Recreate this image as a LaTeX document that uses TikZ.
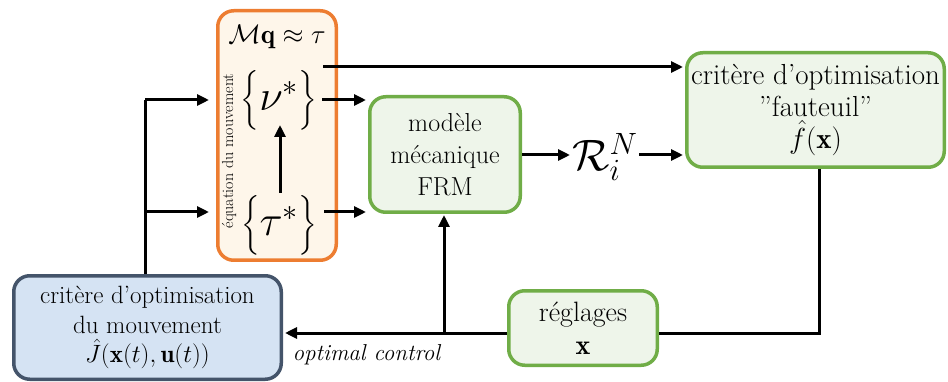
\RequirePackage{fix-cm}
\documentclass[tikz,border=0pt]{standalone}
\usepackage{fontspec}
\usepackage{amsmath}
\usetikzlibrary{arrows.meta}
\definecolor{orng}{HTML}{ED7D31}
\definecolor{cream}{HTML}{FEF6EA}
\definecolor{grn}{HTML}{70AD47}
\definecolor{grnfill}{HTML}{EEF5EA}
\definecolor{bluefill}{HTML}{D5E3F3}
\definecolor{blueline}{HTML}{44546A}
\begin{document}
\begin{tikzpicture}[x=1pt,y=-1pt,
  box/.style={draw, rounded corners=16pt, line width=3.5pt, align=center, inner sep=0pt},
  greenbox/.style={box, draw=grn, fill=grnfill},
  arr/.style={line width=3pt, -{Triangle[length=12pt,width=11pt]}, shorten >=2pt},
  ln/.style={line width=3pt},
  bigmath/.style={inner sep=0pt, font=\fontsize{43}{46}\selectfont}]
\useasboundingbox (0,0) rectangle (948,382);
% boxes
\node[box, draw=orng, fill=cream, minimum width=118.5pt, minimum height=249.5pt] (eqbox) at (277,135.5) {};
\node[box, draw=blueline, fill=bluefill, minimum width=267.5pt, minimum height=103.5pt,
  font=\fontsize{25}{29.5}\selectfont] (crit) at (147.5,327.5)
  {critère d’optimisation\\du mouvement\\$\hat{J}(\mathbf{x}(t),\mathbf{u}(t))$};
\node[greenbox, minimum width=150.5pt, minimum height=115.5pt,
  font=\fontsize{26}{32}\selectfont] (model) at (445,154.5)
  {modèle\\mécanique\\FRM};
\node[greenbox, minimum width=257.5pt, minimum height=114.5pt,
  font=\fontsize{29}{32}\selectfont] (faut) at (815.5,110)
  {critère d’optimisation\\''fauteuil''\\$\hat{f}(\mathbf{x})$};
\node[greenbox, minimum width=148.5pt, minimum height=74.5pt,
  font=\fontsize{28}{33}\selectfont] (regl) at (583,328)
  {réglages\\$\mathbf{x}$};
% contents of the orange box
\node[inner sep=0pt, font=\fontsize{27}{30}\selectfont] (mq) at (277,37) {$\mathcal{M}\mathbf{q}\approx\tau$};
\node[inner sep=0pt, rotate=90, font=\fontsize{16}{18}\selectfont] (eqlab) at (229,151) {équation du mouvement};
\node[bigmath] (nu) at (279,100) {$\big\{\nu^*\big\}$};
\node[bigmath] (tau) at (279,225) {$\big\{\tau^*\big\}$};
\node[inner sep=0pt, font=\fontsize{44}{46}\selectfont] (R) at (605,157) {$\mathcal{R}_i^N$};
\node[inner sep=0pt, font=\fontsize{23}{25}\selectfont] (oc) at (367,355) {\textit{optimal control}};
% coordinates
\coordinate (lt) at (145,100);
\coordinate (lb) at (145,212);
\coordinate (ts) at (323,67);
\coordinate (rrow) at (0,155);
\coordinate (corner) at (819,333);
\coordinate (j) at (444,333);
\coordinate (nuarr) at (322,100);
\coordinate (tauarr) at (324,212);
\coordinate (ua) at (280,193);
\coordinate (ub) at (280,123);
\coordinate (rw) at (572,155);
\coordinate (re) at (639,155);
% connectors
\draw[ln] (crit.north -| lt) -- (lt);
\draw[arr, shorten >=7pt] (lt) -- (eqbox.west |- lt);
\draw[arr, shorten >=7pt] (lb) -- (eqbox.west |- lb);
\draw[arr] (ua) -- (ub);
\draw[arr] (ts) -- (faut.west |- ts);
\draw[arr] (nuarr) -- (model.west |- nuarr);
\draw[arr] (tauarr) -- (model.west |- tauarr);
\draw[arr] (model.east |- rrow) -- (rw);
\draw[arr] (re) -- (faut.west |- rrow);
\draw[ln] (faut.south -| corner) -- (corner) -- (regl.east |- corner);
\draw[arr] (regl.west |- corner) -- (crit.east |- corner);
\draw[arr, shorten >=1pt] (j) -- (model.south -| j);
\end{tikzpicture}
\end{document}
